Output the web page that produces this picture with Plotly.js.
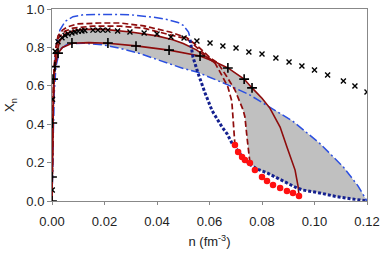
<!DOCTYPE html>
<html><head><meta charset="utf-8">
<script src="https://cdn.plot.ly/plotly-3.0.1.min.js"></script>
<style>html,body{margin:0;padding:0;background:#fff}#chart{width:382px;height:254px}</style>
</head><body><div id="chart"></div>
<script>
// ---- data ----
// shaded band boundary (closed polygon)
const bandX = [0.0012,0.002,0.003,0.005,0.008,0.012,0.02,0.03,0.04,0.046,0.05,0.055,0.062,0.067,0.0732,0.0762,0.08,0.083,0.0918,0.102,0.111,0.1165,0.12,
               0.1147,0.1086,0.102,0.0956,0.0895,0.0857,0.082,0.078,0.0754,0.0747,0.0735,0.0728,0.0697,0.068,0.067,0.06,0.0552,0.05,0.045,0.0385,0.033,0.026,0.02,0.012,0.006,0.003,0.0015,0.0012];
const bandY = [0.70,0.78,0.835,0.87,0.887,0.894,0.894,0.88,0.86,0.84,0.82,0.787,0.72,0.693,0.635,0.589,0.535,0.49,0.415,0.30,0.177,0.08,0.0,
               0.01,0.022,0.042,0.057,0.092,0.12,0.146,0.167,0.2,0.28,0.4375,0.474,0.578,0.61,0.605,0.645,0.672,0.69,0.715,0.745,0.77,0.795,0.812,0.822,0.818,0.79,0.70,0.70];

// blue dash-dot, upper branch
const blueTopX = [0,0.0003,0.0008,0.0015,0.003,0.005,0.008,0.012,0.02,0.03,0.04,0.0438,0.048,0.05,0.052,0.0526];
const blueTopY = [0,0.35,0.65,0.8,0.89,0.935,0.96,0.97,0.972,0.97,0.955,0.945,0.93,0.915,0.88,0.85];
// blue dash-dot, lower branch
const blueLowX = [0,0.0003,0.0008,0.0015,0.003,0.006,0.012,0.02,0.026,0.033,0.0385,0.045,0.05,0.0552,0.06,0.067,0.075,0.083,0.0918,0.102,0.111,0.1165,0.12];
const blueLowY = [0,0.3,0.55,0.7,0.79,0.818,0.822,0.812,0.795,0.77,0.745,0.715,0.69,0.672,0.645,0.605,0.555,0.49,0.415,0.30,0.177,0.08,0.0];
// blue dotted
const blueDotX = [0.0526,0.0537,0.0556,0.0583,0.061,0.0648,0.0667,0.0686,0.0705,0.0728,0.0754,0.078,0.082,0.0857,0.0895,0.0933,0.0956,0.102,0.1086,0.1147,0.12];
const blueDotY = [0.84,0.75,0.667,0.5625,0.47,0.385,0.35,0.30,0.266,0.224,0.19,0.167,0.146,0.12,0.092,0.068,0.057,0.042,0.022,0.01,0.0];
// dark red dashed lines
const redDashAX = [0,0.0003,0.0008,0.0015,0.0023,0.004,0.0057,0.0095,0.018,0.026,0.035,0.045,0.0514,0.056,0.0603,0.0632,0.0665,0.0697,0.0728,0.0735,0.0743,0.0747,0.0754];
const redDashAY = [0,0.45,0.7,0.8,0.86,0.89,0.906,0.922,0.927,0.927,0.912,0.88,0.85,0.8,0.745,0.718,0.65,0.578,0.474,0.4375,0.33,0.28,0.2];
const redDashBX = [0,0.0003,0.0008,0.0015,0.0025,0.005,0.008,0.0156,0.026,0.035,0.045,0.0514,0.056,0.06,0.0621,0.0645,0.067,0.0685,0.069,0.0695,0.0697];
const redDashBY = [0,0.4,0.68,0.79,0.85,0.885,0.9,0.911,0.911,0.9,0.865,0.844,0.79,0.74,0.718,0.66,0.594,0.52,0.44,0.35,0.29];
// dark red solid lines
const redUpX = [0,0.0003,0.0008,0.0015,0.003,0.005,0.008,0.012,0.02,0.03,0.04,0.046,0.05,0.055,0.062];
const redUpY = [0,0.4,0.65,0.76,0.835,0.87,0.887,0.894,0.894,0.88,0.86,0.84,0.82,0.787,0.72];
const redLowX = [0,0.0002,0.0006,0.0012,0.0023,0.004,0.0076,0.014,0.0213,0.032,0.0446,0.0564,0.062,0.067,0.0732,0.0762,0.08,0.083,0.0869,0.0895,0.0926,0.0937,0.0941];
const redLowY = [0,0.4,0.63,0.70,0.77,0.80,0.822,0.825,0.822,0.808,0.786,0.755,0.725,0.693,0.635,0.589,0.535,0.484,0.385,0.281,0.161,0.08,0.03];
// red circles
const redDotsX = [0.0697,0.0709,0.0724,0.0735,0.0754,0.0773,0.080,0.0819,0.0842,0.0869,0.0895,0.0918,0.0941];
const redDotsY = [0.292,0.255,0.229,0.214,0.198,0.161,0.125,0.104,0.083,0.068,0.052,0.042,0.026];
// black crosses (x)
const crossX = [0.0001,0.0002,0.0012,0.0023,0.0038,0.005,0.0061,0.0076,0.0088,0.01,0.0114,0.0125,0.0156,0.0175,0.0194,0.0213,0.025,0.0297,0.0351,0.04,0.0453,0.0503,0.0552,0.0602,0.0651,0.0701,0.075,0.08,0.0853,0.0903,0.0952,0.1,0.105,0.111,0.1154,0.12];
const crossY = [0.057,0.53,0.78,0.83,0.85,0.862,0.87,0.875,0.88,0.884,0.886,0.888,0.89,0.89,0.89,0.89,0.885,0.88,0.875,0.87,0.854,0.849,0.833,0.823,0.807,0.797,0.776,0.766,0.745,0.724,0.703,0.682,0.656,0.625,0.599,0.568];
// black plus markers
const plusX = [0,0,0.0001,0.0004,0.0011,0.0023,0.0076,0.0213,0.032,0.0446,0.0564,0.067,0.0732,0.0762];
const plusY = [0,0.125,0.406,0.635,0.70,0.77,0.823,0.823,0.807,0.786,0.755,0.693,0.635,0.589];

const xTicks = [0,0.02,0.04,0.06,0.08,0.10,0.12];
const xTickText = ['0.00','0.02','0.04','0.06','0.08','0.10','0.12'];
const yTicks = [0,0.2,0.4,0.6,0.8,1.0];
const yTickText = ['0.0','0.2','0.4','0.6','0.8','1.0'];

const DR = '#8e0c0c', BL = '#2b4fe0', NV = '#14208f';
const traces = [
  {x:bandX, y:bandY, mode:'lines', fill:'toself', fillcolor:'#c0c0c0', line:{width:0}, hoverinfo:'skip'},
  {x:blueTopX, y:blueTopY, mode:'lines', line:{color:BL, width:1.5, dash:'9px,3px,2px,3px'}},
  {x:blueLowX, y:blueLowY, mode:'lines', line:{color:BL, width:1.5, dash:'9px,3px,2px,3px'}},
  {x:redDashAX, y:redDashAY, mode:'lines', line:{color:DR, width:1.7, dash:'6px,3px'}},
  {x:redDashBX, y:redDashBY, mode:'lines', line:{color:DR, width:1.7, dash:'6px,3px'}},
  {x:redUpX, y:redUpY, mode:'lines', line:{color:DR, width:1.6}},
  {x:redLowX, y:redLowY, mode:'lines', line:{color:DR, width:1.6}},
  {x:blueDotX, y:blueDotY, mode:'lines', line:{color:NV, width:3, dash:'3px,2px'}},
  {x:redDotsX, y:redDotsY, mode:'markers', marker:{color:'#ff1010', size:6.5}},
  {x:crossX, y:crossY, mode:'markers', marker:{symbol:'x-thin-open', size:5, color:'#000', line:{width:1.4, color:'#000'}}},
  {x:plusX, y:plusY, mode:'markers', marker:{symbol:'cross-thin-open', size:7, color:'#000', line:{width:1.6, color:'#000'}}}
];
const layout = {
  width:382, height:254, showlegend:false,
  margin:{l:52, r:15, t:9, b:53},
  paper_bgcolor:'#fff', plot_bgcolor:'#fff',
  font:{family:'Liberation Sans, Arial, sans-serif', size:13, color:'#222'},
  xaxis:{range:[0,0.12], tickvals:xTicks, ticktext:xTickText, showgrid:false, zeroline:false,
         showline:true, mirror:true, linecolor:'#888', linewidth:1, ticks:'outside', ticklen:3, tickcolor:'#888',
         ticklabelstandoff:5,
         title:{text:'n (fm<sup>-3</sup>)', font:{size:13}, standoff:9}},
  yaxis:{range:[0,1], tickvals:yTicks, ticktext:yTickText, showgrid:false, zeroline:false,
         showline:true, mirror:true, linecolor:'#888', linewidth:1, ticks:'outside', ticklen:4, tickcolor:'#888',
         title:{text:'X<sub>n</sub>', font:{size:13}, standoff:8}}
};
Plotly.newPlot('chart', traces, layout, {staticPlot:true, displayModeBar:false});
</script></body></html>
